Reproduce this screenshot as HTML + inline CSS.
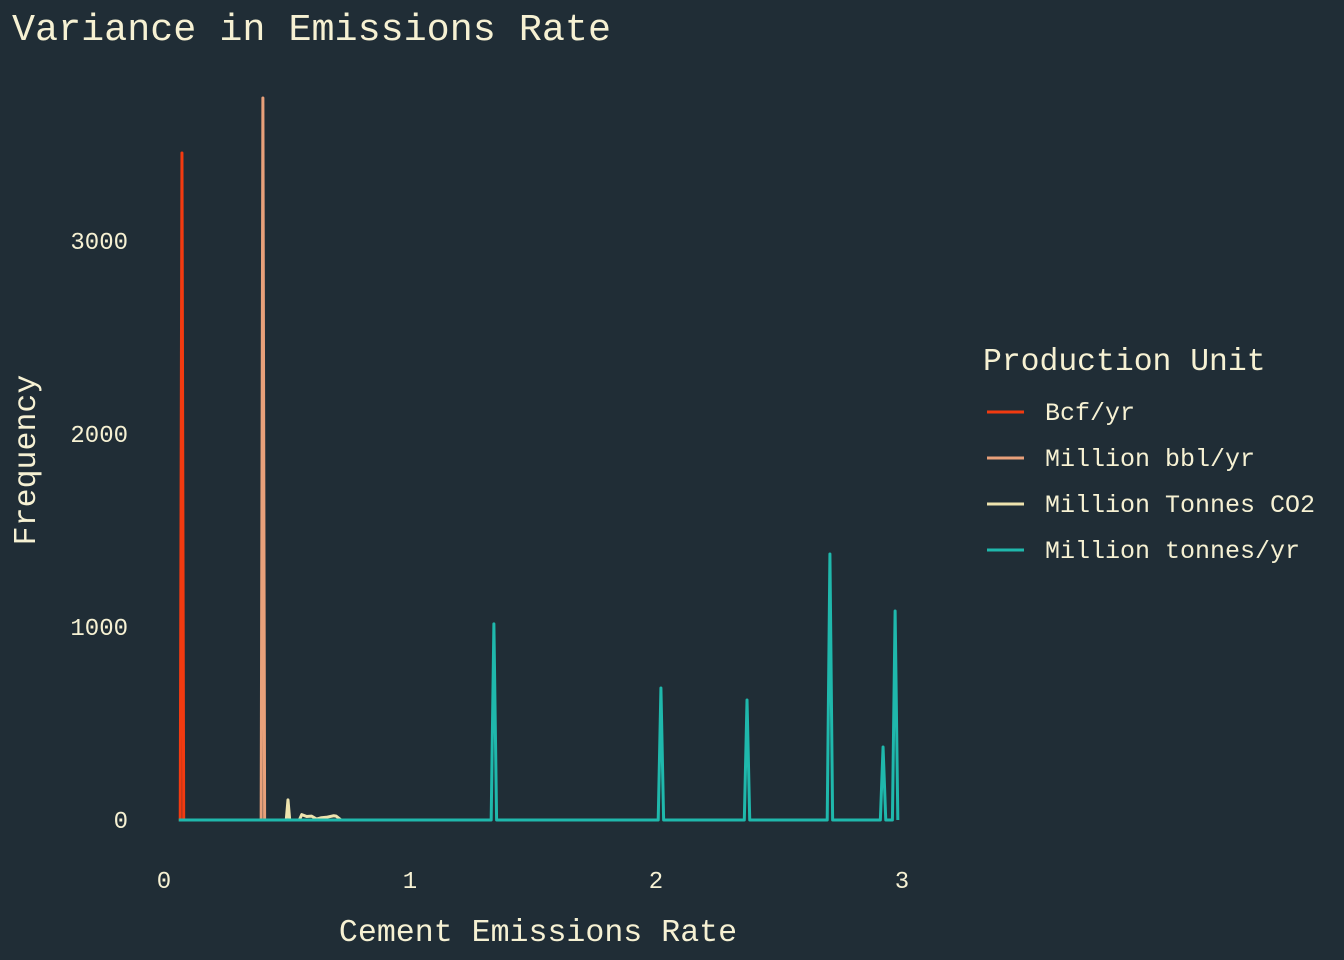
<!DOCTYPE html>
<html><head><meta charset="utf-8"><style>
html,body{margin:0;padding:0;background:#202d36;}
svg{display:block;font-family:"Liberation Mono",monospace;}
</style></head><body>
<svg id="chart" width="1344" height="960">
<rect width="1344" height="960" fill="#202d36"/>
<text x="12" y="40" font-size="38.4" fill="#f6f1d3">Variance in Emissions Rate</text>
<text x="538" y="941" font-size="31.6" fill="#f6f1d3" text-anchor="middle">Cement Emissions Rate</text>
<text transform="translate(35,460) rotate(-90)" font-size="31.6" fill="#f6f1d3" text-anchor="middle">Frequency</text>
<g id="xticks"></g>
<g id="yticks"></g>
<g id="series"></g>
<g id="legend">
<text x="983" y="370" font-size="31.4" fill="#f6f1d3">Production Unit</text>
</g>
</svg>
<script>
const seriesNames = ["Bcf/yr","Million bbl/yr","Million Tonnes CO2","Million tonnes/yr"];
const seriesColors = ["#f23a10","#e8a07a","#eee3ae","#1fb8ac"];
const bcfX = [0.060,0.066,0.073,0.080,0.086];
const bcfY = [0,0,3456,0,0];
const bblX = [0.388,0.395,0.402,0.409,0.415];
const bblY = [0,0,3741,0,0];
const co2X = [0.49,0.497,0.504,0.511,0.52,0.55,0.56,0.58,0.60,0.62,0.64,0.66,0.69,0.70,0.72];
const co2Y = [0,0,104,0,0,0,28,18,20,5,12,14,22,20,0];
const mtX = [0.06,1.33,1.341,1.352,2.009,2.020,2.031,2.359,2.370,2.381,2.696,2.707,2.718,2.912,2.923,2.934,2.961,2.972,2.983];
const mtY = [0,0,1016,0,0,684,0,0,622,0,0,1378,0,0,378,0,0,1083,0];
const xTicks = [0,1,2,3];
const yTicks = [0,1000,2000,3000];
const NS="http://www.w3.org/2000/svg";
const xs = v => 164 + v*246;
const ys = v => 820 - v*0.193;
const xg=document.getElementById('xticks'), yg=document.getElementById('yticks');
xTicks.forEach(t=>{const e=document.createElementNS(NS,'text');


e.setAttribute('x',xs(t));e.setAttribute('y',888);e.setAttribute('font-size','24');e.setAttribute('fill','#f6f1d3');e.setAttribute('text-anchor','middle');e.textContent=t;xg.appendChild(e);});
yTicks.forEach(t=>{const e=document.createElementNS(NS,'text');


e.setAttribute('x',128);e.setAttribute('y',ys(t)+8);e.setAttribute('font-size','24');e.setAttribute('fill','#f6f1d3');e.setAttribute('text-anchor','end');e.textContent=t;yg.appendChild(e);});
const data=[[bcfX,bcfY],[bblX,bblY],[co2X,co2Y],[mtX,mtY]];
const sg=document.getElementById('series');
data.forEach((d,i)=>{const p=document.createElementNS(NS,'polyline');


p.setAttribute('points',d[0].map((x,j)=>xs(x)+','+ys(d[1][j])).join(' '));
p.setAttribute('fill','none');p.setAttribute('stroke',seriesColors[i]);p.setAttribute('stroke-width','3');p.setAttribute('stroke-linejoin','round');sg.appendChild(p);});
const lg=document.getElementById('legend');
seriesNames.forEach((n,i)=>{const y=412+i*46;
const l=document.createElementNS(NS,'line');


l.setAttribute('x1',987);l.setAttribute('x2',1024);l.setAttribute('y1',y);l.setAttribute('y2',y);l.setAttribute('stroke',seriesColors[i]);l.setAttribute('stroke-width','3');lg.appendChild(l);
const t=document.createElementNS(NS,'text');


t.setAttribute('x',1045);t.setAttribute('y',y+8);t.setAttribute('font-size','25');t.setAttribute('fill','#f6f1d3');t.textContent=n;lg.appendChild(t);});
</script>
</body></html>
